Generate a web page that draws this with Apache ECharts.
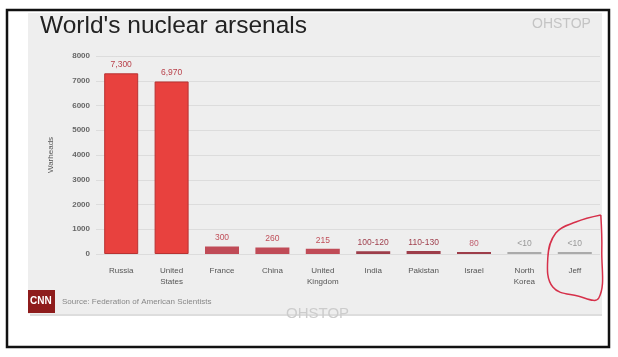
<!DOCTYPE html>
<html><head><meta charset="utf-8">
<script src="https://cdn.jsdelivr.net/npm/echarts@6/dist/echarts.min.js"></script>
<style>html,body{margin:0;padding:0;background:#fff}#c{width:618px;height:357px}</style>
</head><body><div id="c"></div>
<script>
const categories = ['Russia','United\nStates','France','China','United\nKingdom','India','Pakistan','Israel','North\nKorea','Jeff'];
const values = [7300, 6970, 300, 260, 215, 110, 120, 80, 10, 10];
const valueLabels = ['7,300','6,970','300','260','215','100-120','110-130','80','<10','<10'];
const yTicks = [0,1000,2000,3000,4000,5000,6000,7000,8000];

const barColors = ['#e8413e','#e8413e','#c04b57','#c04b57','#c04b57','#9d3d4a','#9d3d4a','#9d3d4a','#aaaaaa','#aaaaaa'];
const labelColors = ['#b8404a','#b8404a','#c0505a','#c0505a','#c0505a','#a0404e','#a0404e','#c06070','#999','#999'];

const chart = echarts.init(document.getElementById('c'));
const option = {
  animation:false,
  backgroundColor:'#ffffff',
  grid:{left:96,right:18,top:56,bottom:103},
  xAxis:{type:'category',data:categories,
    axisLine:{show:false},axisTick:{show:false},
    axisLabel:{color:'#555',fontSize:8,fontFamily:'Liberation Sans',margin:11,lineHeight:11}},
  yAxis:{type:'value',min:yTicks[0],max:yTicks[yTicks.length-1],interval:1000,
    name:'Warheads',nameLocation:'middle',nameGap:41,nameRotate:90,
    nameTextStyle:{color:'#555',fontSize:8,fontFamily:'Liberation Sans'},
    axisLine:{show:false},axisTick:{show:false},
    axisLabel:{color:'#666',fontSize:8,fontFamily:'Liberation Sans',fontWeight:'bold',margin:6,formatter:v=>String(v)},
    splitLine:{lineStyle:{color:'#dcdcdc',width:1}}},
  series:[{type:'bar',barWidth:34,barMinHeight:2,
    data:values.map((v,i)=>({value:v,itemStyle:{color:barColors[i],borderColor:i<2?'#b83232':barColors[i],borderWidth:i<2?1:0},
      label:{color:labelColors[i]}})),
    label:{show:true,position:'top',distance:4,fontSize:8.5,fontFamily:'Liberation Sans',
      formatter:p=>valueLabels[p.dataIndex]}}]
};
chart.setOption(option);

const jx = chart.convertToPixel({xAxisIndex:0},'Jeff');
const y0 = chart.convertToPixel({yAxisIndex:0},0);
const loop = [[26,-39],[27,-4],[24,44],[3,42],[-22,33],[-27,4],[-19,-21],[1,-32],[26,-39]].map(p=>[jx+p[0],y0+p[1]]);

chart.setOption({graphic:[
  {type:'rect',z:-10,shape:{x:28,y:13,width:574,height:301},style:{fill:'#eeeeee'},silent:true},
  {type:'rect',z:-9,shape:{x:30,y:314,width:572,height:2},style:{fill:'#dddddd'},silent:true},
  {type:'rect',z:100,shape:{x:7,y:10,width:602,height:337},style:{fill:'none',stroke:'#111',lineWidth:2.5},silent:true},
  {type:'text',left:40,top:14,style:{text:"World's nuclear arsenals",fontSize:24.5,fontFamily:'Liberation Sans',fill:'#222'}},
  {type:'text',left:532,top:17,style:{text:'OHSTOP',fontSize:14,fontFamily:'Liberation Sans',fill:'#c4c4c4'}},
  {type:'text',left:286,top:306,style:{text:'OHSTOP',fontSize:15,fontFamily:'Liberation Sans',fill:'#cccccc'}},
  {type:'rect',shape:{x:28,y:290,width:27,height:23},style:{fill:'#8e1c1c'}},
  {type:'text',left:30,top:296,style:{text:'CNN',fontSize:10,fontWeight:'bold',fontFamily:'Liberation Sans',fill:'#fff'}},
  {type:'text',left:62,top:298,style:{text:'Source: Federation of American Scientists',fontSize:8,fontFamily:'Liberation Sans',fill:'#888'}},
  {type:'polyline',z:50,shape:{points:loop,smooth:0.4},style:{stroke:'#d6304a',lineWidth:1.5,fill:'none'}}
]});
</script></body></html>
